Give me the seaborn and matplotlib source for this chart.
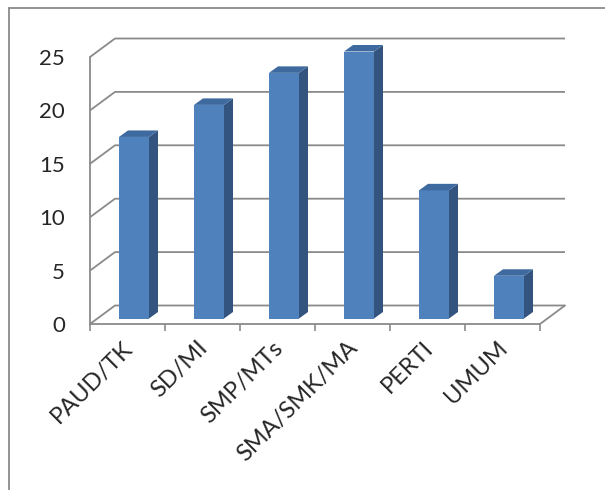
import numpy as np
import pandas as pd
import matplotlib.pyplot as plt
import matplotlib.transforms as mtransforms
from matplotlib.patches import Polygon
from matplotlib.lines import Line2D
import seaborn as sns

# data
categories = ['PAUD/TK', 'SD/MI', 'SMP/MTs', 'SMA/SMK/MA', 'PERTI', 'UMUM']
values = [17, 20, 23, 25, 12, 4]
y_ticks = [0, 5, 10, 15, 20, 25]

# Excel-2007 style colours
FRONT = '#4F81BD'
SIDE = '#32547F'
TOP = '#3E6A9F'
GRID = '#8A8A8A'

sns.set_style('white')
plt.rcParams['font.family'] = ['Lato', 'DejaVu Sans']

df = pd.DataFrame({'level': categories, 'count': values})

W, H, DPI = 605, 490, 100
fig = plt.figure(figsize=(W / DPI, H / DPI), dpi=DPI)
ax = fig.add_axes([0, 0, 1, 1])
ax.patch.set_alpha(0)

sns.barplot(data=df, x='level', y='count', color=FRONT, width=0.4,
            saturation=1, ax=ax, zorder=3, edgecolor='none')

# pixel layout of the front plane
x0_px, px_per_cat = 90, 75.0
y0_px, px_per_unit = 324, (324 - 57) / 25.0
ax.set_xlim(-0.5 - x0_px / px_per_cat, -0.5 + (W - x0_px) / px_per_cat)
ax.set_ylim(-(H - y0_px) / px_per_unit, y0_px / px_per_unit)

# back wall offset (data units)
wall_dx = 25 / px_per_cat
wall_dy = 18.5 / px_per_unit
n = len(categories)
left, right = -0.5, n - 0.5
for v in y_ticks:
    ax.plot([left, left + wall_dx, right + wall_dx], [v, v + wall_dy, v + wall_dy],
            color=GRID, lw=1.3, zorder=1, solid_capstyle='butt')
ax.plot([right, right + wall_dx], [0, wall_dy], color=GRID, lw=1.3, zorder=1)

# push bars into the middle of the floor and give them depth
shift = mtransforms.ScaledTranslation(6.5 / DPI, 5.5 / DPI, fig.dpi_scale_trans)
bar_tr = ax.transData + shift
ddx = 9 / px_per_cat
ddy = 6.5 / px_per_unit
for p in list(ax.patches):
    p.set_transform(bar_tr)
    x, w, h = p.get_x(), p.get_width(), p.get_height()
    side = Polygon([(x + w, 0), (x + w + ddx, ddy), (x + w + ddx, h + ddy), (x + w, h)],
                   closed=True, facecolor=SIDE, edgecolor='none', transform=bar_tr, zorder=3)
    top = Polygon([(x, h), (x + w, h), (x + w + ddx, h + ddy), (x + ddx, h + ddy)],
                  closed=True, facecolor=TOP, edgecolor='none', transform=bar_tr, zorder=3)
    ax.add_patch(side)
    ax.add_patch(top)

# front axes
for s in ['top', 'right']:
    ax.spines[s].set_visible(False)
ax.spines['left'].set_position(('data', left))
ax.spines['left'].set_bounds(0, max(y_ticks))
ax.spines['bottom'].set_position(('data', 0))
ax.spines['bottom'].set_bounds(left, right)
for s in ['left', 'bottom']:
    ax.spines[s].set_color(GRID)
    ax.spines[s].set_linewidth(1.3)
    ax.spines[s].set_zorder(2)

ax.set_yticks(y_ticks)
ax.tick_params(axis='y', length=5, width=1.2, color=GRID, pad=13, labelsize=16)
ax.set_xticks(np.arange(n + 1) - 0.5, minor=True)
ax.tick_params(axis='x', which='minor', length=5, width=1.2, color=GRID, bottom=True)
ax.tick_params(axis='x', which='major', length=0, pad=15, labelsize=17)
lab_shift = mtransforms.ScaledTranslation(2 / DPI, 0, fig.dpi_scale_trans)
for lab in ax.get_xticklabels():
    lab.set_rotation(45)
    lab.set_ha('right')
    lab.set_va('center')
    lab.set_rotation_mode('anchor')
    lab.set_transform(lab.get_transform() + lab_shift)
ax.set_xlabel('')
ax.set_ylabel('')

# chart-area border (runs off the picture on the right and bottom)
bx, by = 8.5 / W, 1 - 8.5 / H
fig.add_artist(Line2D([bx, 1], [by, by], transform=fig.transFigure, color=GRID, lw=1.3))
fig.add_artist(Line2D([bx, bx], [by, 0], transform=fig.transFigure, color=GRID, lw=1.3))

fig.savefig('out.png', dpi=DPI)
